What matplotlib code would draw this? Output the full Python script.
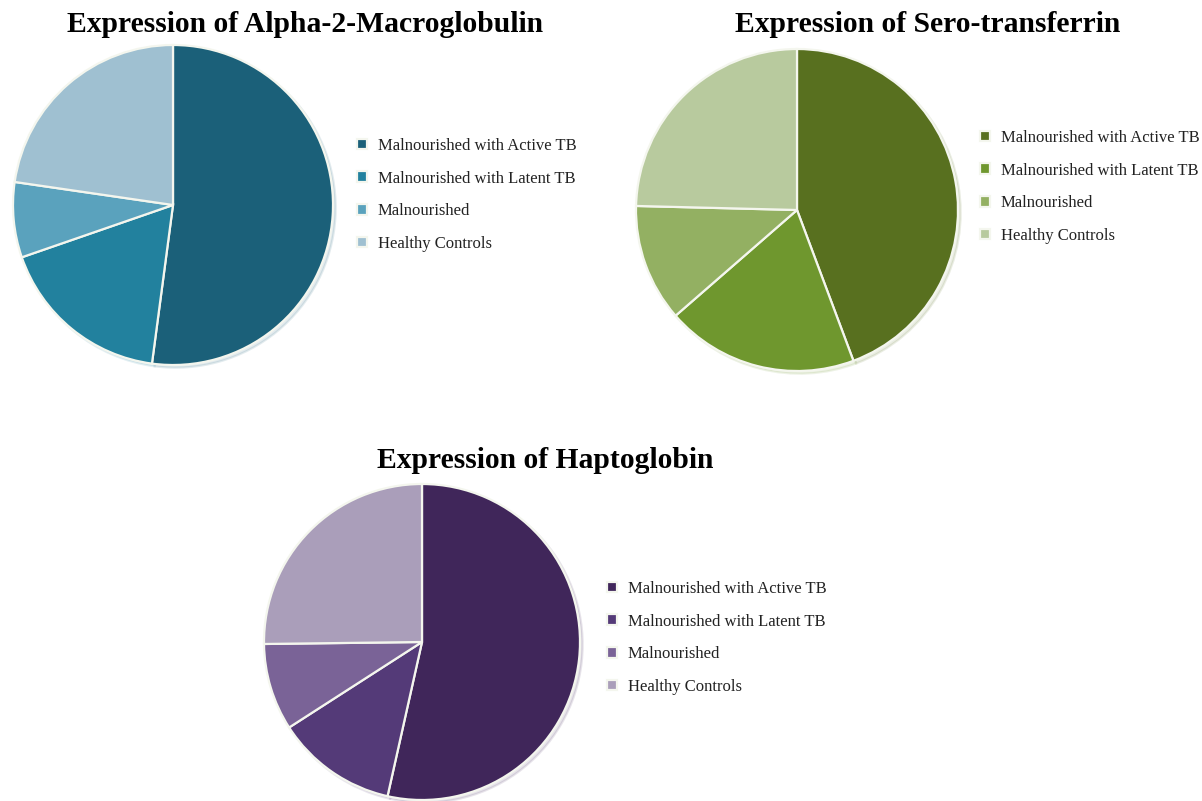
import matplotlib
matplotlib.use("Agg")
import matplotlib.pyplot as plt

categories = ["Malnourished with Active TB", "Malnourished with Latent TB",
              "Malnourished", "Healthy Controls"]

a2m_values = [52.1, 17.6, 7.6, 22.7]
transferrin_values = [44.3, 19.3, 11.8, 24.6]
haptoglobin_values = [53.5, 12.4, 8.9, 25.2]

a2m_colors = ["#1B6079", "#22819E", "#5AA2BD", "#9FC0D1"]
transferrin_colors = ["#58701F", "#6F972E", "#93B062", "#B8CA9E"]
haptoglobin_colors = ["#40265A", "#543A78", "#7A6397", "#AA9EBA"]

titles = ["Expression of Alpha-2-Macroglobulin", "Expression of Sero-transferrin",
          "Expression of Haptoglobin"]

W, H = 1202, 801
fig = plt.figure(figsize=(W / 100, H / 100), dpi=100)
fig.patch.set_facecolor("white")

# (center x, center y, radius) in pixels, title pos (baseline), legend anchor
panels = [
    (a2m_values, a2m_colors, titles[0], (173, 205, 160), (305, 32), (357, 138)),
    (transferrin_values, transferrin_colors, titles[1], (797, 210, 161), (927.5, 32), (980, 130)),
    (haptoglobin_values, haptoglobin_colors, titles[2], (422, 642, 158), (545, 468), (607, 581)),
]

for vals, cols, title, (cx, cy, r), (tx, ty), (lx, ly) in panels:
    ax = fig.add_axes([(cx - r) / W, (H - cy - r) / H, 2 * r / W, 2 * r / H])
    wedges, _ = ax.pie(vals, colors=cols, startangle=90, counterclock=False,
                       radius=1.0,
                       wedgeprops=dict(edgecolor="#F4F6EE", linewidth=1.6),
                       shadow=dict(ox=0.012, oy=-0.012, alpha=0.12, shade=0.0))
    ax.set_xlim(-1.0, 1.0)
    ax.set_ylim(-1.0, 1.0)
    ax.set_aspect("equal")
    ax.axis("off")
    fig.text(tx / W, 1 - ty / H, title, ha="center", va="baseline",
             fontsize=21.3, fontweight="bold", family="Liberation Serif")
    fig.legend(wedges, categories, loc="upper left",
               bbox_to_anchor=(lx / W, 1 - ly / H), frameon=False,
               prop=dict(family="Liberation Serif", size=12),
               labelcolor="#222222",
               handlelength=0.6, handleheight=0.6, handletextpad=0.65,
               labelspacing=1.0, borderpad=0, borderaxespad=0)

fig.savefig("out.png", dpi=100, facecolor="white")
